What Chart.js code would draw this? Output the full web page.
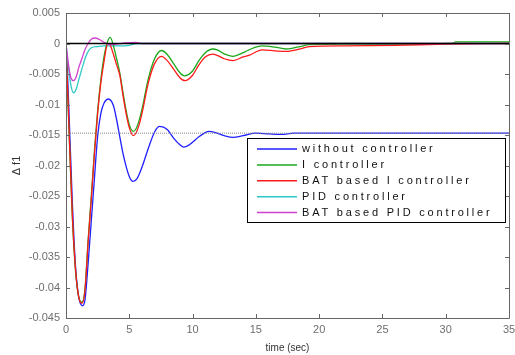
<!DOCTYPE html>
<html>
<head>
<meta charset="utf-8">
<script src="https://cdn.jsdelivr.net/npm/chart.js@4.4.1/dist/chart.umd.min.js"></script>
<style>
  html, body { margin: 0; padding: 0; background: #fff; }
  #wrap { position: relative; width: 515px; height: 355px; }
</style>
</head>
<body>
<div id="wrap"><canvas id="c" width="515" height="355"></canvas></div>
<script>
/* Δf1 step response, five controller cases */

var legendLabels = ['without controller', 'I controller', 'BAT based I controller', 'PID controller', 'BAT based PID controller'];
var xTicks = [0, 5, 10, 15, 20, 25, 30, 35];

var tBlue = [0, 0.1, 0.25, 0.5, 0.75, 1, 1.3, 1.5, 1.75, 2, 2.25, 2.5, 2.75, 3, 3.35, 3.75, 4, 4.25, 4.5, 5, 5.3, 5.6, 6, 6.5, 7, 7.4, 8, 8.5, 9, 9.3, 9.75, 10.5, 11, 11.3, 11.8, 12.5, 13.2, 14, 15, 16, 17, 18, 20, 35];
var yBlue = [0, -0.004, -0.012, -0.026, -0.0365, -0.0415, -0.043, -0.042, -0.036, -0.029, -0.022, -0.0152, -0.0115, -0.0098, -0.0091, -0.0102, -0.0125, -0.0153, -0.018, -0.0218, -0.0226, -0.0222, -0.0203, -0.0172, -0.0145, -0.0136, -0.0141, -0.0155, -0.0166, -0.017, -0.0166, -0.0153, -0.0146, -0.0144, -0.0146, -0.0151, -0.0154, -0.0151, -0.0147, -0.0148, -0.0149, -0.0147, -0.0147, -0.0147];

var tGreen = [0, 0.1, 0.25, 0.5, 0.75, 1, 1.26, 1.5, 1.75, 2, 2.25, 2.5, 2.75, 3, 3.25, 3.5, 3.75, 4, 4.25, 4.5, 4.75, 5, 5.3, 5.5, 5.75, 6, 6.5, 7, 7.55, 8, 8.5, 9, 9.35, 10, 10.5, 11, 11.6, 12, 12.5, 13.2, 14, 14.5, 15.5, 16.5, 17.4, 18.5, 19.2, 22, 30.5, 30.8, 35];
var yGreen = [0, -0.0065, -0.015, -0.0285, -0.0372, -0.0415, -0.0424, -0.0402, -0.0322, -0.025, -0.0175, -0.011, -0.006, -0.0022, 0.0001, 0.001, -0.0004, -0.0025, -0.0048, -0.008, -0.011, -0.0133, -0.0144, -0.0141, -0.0128, -0.0108, -0.0058, -0.0025, -0.00115, -0.0018, -0.0033, -0.0048, -0.0053, -0.0045, -0.0028, -0.0015, -0.0009, -0.0011, -0.0017, -0.0021, -0.0015, -0.001, -0.0004, -0.0006, -0.0009, -0.0005, -0.0002, -0.0001, 0, 0.00027, 0.00027];

var tRed = [0, 0.1, 0.25, 0.5, 0.75, 1, 1.26, 1.5, 1.75, 2, 2.25, 2.5, 2.75, 3, 3.3, 3.5, 3.75, 4, 4.25, 4.5, 4.75, 5, 5.3, 5.5, 5.75, 6, 6.5, 7, 7.55, 8, 8.5, 9, 9.4, 10, 10.5, 11, 11.6, 12, 12.5, 13.2, 14, 14.5, 15.5, 16.5, 17.4, 18.5, 19.2, 22, 26, 30, 35];
var yRed = [0, -0.006, -0.0145, -0.028, -0.037, -0.0415, -0.0426, -0.0405, -0.0325, -0.0255, -0.018, -0.0115, -0.0065, -0.003, 0, -0.0003, -0.0018, -0.0035, -0.0052, -0.0085, -0.0115, -0.0138, -0.0151, -0.0148, -0.0135, -0.0115, -0.0065, -0.0033, -0.0021, -0.0028, -0.0042, -0.0056, -0.0061, -0.0052, -0.0035, -0.0022, -0.00175, -0.002, -0.0025, -0.0028, -0.0022, -0.0019, -0.00105, -0.0012, -0.0013, -0.0009, -0.0005, -0.0004, -0.0003, -0.0001, 0];

var tCyan = [0, 0.2, 0.4, 0.6, 0.8, 1, 1.25, 1.5, 1.75, 2, 2.5, 3, 4, 5, 5.6, 35];
var yCyan = [0, -0.004, -0.007, -0.0081, -0.0075, -0.006, -0.0042, -0.0025, -0.0013, -0.0007, -0.0005, -0.0004, -0.0004, -0.0003, 0, 0];

var tMagenta = [0, 0.2, 0.4, 0.6, 0.8, 1, 1.25, 1.5, 1.75, 2, 2.3, 2.6, 3, 3.5, 4, 4.7, 5.5, 6, 35];
var yMagenta = [0, -0.0035, -0.0057, -0.0061, -0.0055, -0.004, -0.0025, -0.001, 0, 0.0007, 0.0009, 0.0007, 0.0002, -0.0002, -0.0001, 0.0001, 0.0002, 0, 0];

var zeroLine = [0, 0];
var finalLine = [-0.0147, -0.0147];
var refT = [0, 35];

var colors = ['#1f1fff', '#1aa81a', '#ff1a1a', '#2ec8c8', '#d040d0'];

function pts(ts, ys) {
  return ts.map(function(t, i) { return {x: t, y: ys[i]}; });
}

function curve(label, ts, ys, color, order) {
  return {
    label: label, data: pts(ts, ys), borderColor: color, backgroundColor: color,
    borderWidth: 1.3, pointRadius: 0, fill: false, cubicInterpolationMode: 'monotone', order: order
  };
}

/* frame, inward ticks and legend box drawn MATLAB-style */
var matlabFrame = {
  id: 'matlabFrame',
  afterDraw: function(chart) {
    var ctx = chart.ctx, a = chart.chartArea;
    var xs = chart.scales.x, ys = chart.scales.y;
    ctx.save();
    ctx.strokeStyle = '#666';
    ctx.lineWidth = 1;
    ctx.beginPath();
    ctx.rect(Math.round(a.left) + 0.5, Math.round(a.top) + 0.5, Math.round(a.right - a.left), Math.round(a.bottom - a.top));
    ctx.stroke();
    ctx.beginPath();
    xs.ticks.forEach(function(t) {
      var px = Math.round(xs.getPixelForValue(t.value)) + 0.5;
      ctx.moveTo(px, a.bottom); ctx.lineTo(px, a.bottom - 4);
      ctx.moveTo(px, a.top); ctx.lineTo(px, a.top + 4);
    });
    ys.ticks.forEach(function(t) {
      var py = Math.round(ys.getPixelForValue(t.value)) + 0.5;
      ctx.moveTo(a.left, py); ctx.lineTo(a.left + 4, py);
      ctx.moveTo(a.right, py); ctx.lineTo(a.right - 4, py);
    });
    ctx.stroke();

    // legend
    var bx = 247.5, by = 138.5, bw = 258, bh = 84;
    ctx.fillStyle = '#fff';
    ctx.fillRect(bx, by, bw, bh);
    ctx.strokeStyle = '#000';
    ctx.strokeRect(bx, by, bw, bh);
    ctx.font = '11px "Liberation Sans", Arial, sans-serif';
    ctx.letterSpacing = '2.8px';
    ctx.textBaseline = 'middle';
    legendLabels.forEach(function(lbl, i) {
      var ry = 149 + i * 15.9;
      ctx.strokeStyle = colors[i];
      ctx.lineWidth = 1.5;
      ctx.beginPath();
      ctx.moveTo(257, ry); ctx.lineTo(297, ry);
      ctx.stroke();
      ctx.fillStyle = '#111';
      ctx.fillText(lbl, 302, ry);
    });
    ctx.restore();
  }
};

new Chart(document.getElementById('c'), {
  type: 'line',
  data: {
    datasets: [
      {label: 'zero', data: pts(refT, zeroLine), borderColor: '#000', borderWidth: 1.6, pointRadius: 0, fill: false, order: 0},
      {label: 'final', data: pts(refT, finalLine), borderColor: '#8a8a8a', borderWidth: 1, borderDash: [1, 1], pointRadius: 0, fill: false, order: 1},
      curve(legendLabels[0], tBlue, yBlue, colors[0], 6),
      curve(legendLabels[1], tGreen, yGreen, colors[1], 4),
      curve(legendLabels[2], tRed, yRed, colors[2], 3),
      curve(legendLabels[3], tCyan, yCyan, colors[3], 5),
      curve(legendLabels[4], tMagenta, yMagenta, colors[4], 2)
    ]
  },
  options: {
    responsive: false, animation: false,
    layout: {padding: {left: 0, right: 6, top: 13, bottom: 0}},
    plugins: {legend: {display: false}, tooltip: {enabled: false}},
    scales: {
      x: {
        type: 'linear', min: 0, max: 35,
        afterBuildTicks: function(s) { s.ticks = xTicks.map(function(v) { return {value: v}; }); },
        afterFit: function(s) { s.paddingLeft = 0; s.paddingRight = 0; s.height = 37; },
        grid: {display: false, drawTicks: false},
        border: {display: false},
        ticks: {color: '#6e6e6e', padding: 5, maxRotation: 0, font: {family: '"Liberation Sans", Arial', size: 11}},
        title: {display: true, text: 'time (sec)', color: '#333', padding: {top: 4, bottom: 1}, font: {family: '"Liberation Sans", Arial', size: 10}}
      },
      y: {
        min: -0.045, max: 0.005,
        afterFit: function(s) { s.width = 66; },
        grid: {display: false, drawTicks: false},
        border: {display: false},
        ticks: {
          stepSize: 0.005, color: '#6e6e6e', padding: 6,
          font: {family: '"Liberation Sans", Arial', size: 11},
          callback: function(v) { return Math.abs(v) < 1e-9 ? '0' : String(Math.round(v * 1000) / 1000); }
        },
        title: {display: true, text: 'Δ f1', color: '#333', padding: {top: 10, bottom: 0}, font: {family: '"Liberation Sans", Arial', size: 11}}
      }
    }
  },
  plugins: [matlabFrame]
});
</script>
</body>
</html>
